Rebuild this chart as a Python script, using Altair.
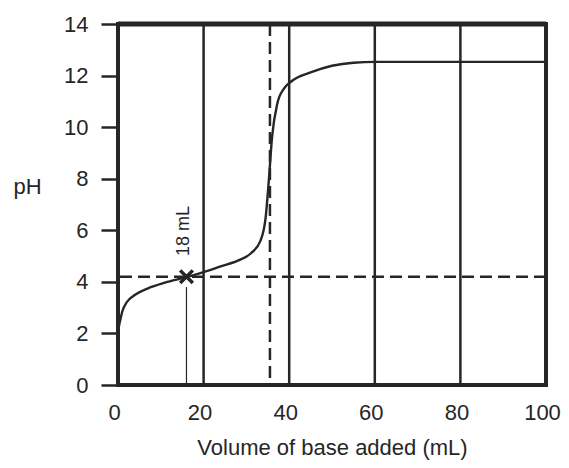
import altair as alt
import pandas as pd

# Titration curve (volume of base in mL, pH)
vol = [0, 0.5, 1, 2, 4, 7, 11, 16, 20, 24, 28, 31, 33.3, 34.5, 35.3, 36.0, 37.2, 38.8, 40.7, 45, 50, 55, 60, 100]
ph = [2.1, 2.5, 2.85, 3.2, 3.5, 3.75, 3.97, 4.18, 4.38, 4.6, 4.82, 5.1, 5.6, 6.5, 8.07, 9.62, 10.9, 11.5, 11.8, 12.12, 12.38, 12.5, 12.53, 12.53]

grid_x = [20, 40, 60, 80]
x_ticks = [0, 20, 40, 60, 80, 100]
y_ticks = [0, 2, 4, 6, 8, 10, 12, 14]

half_eq_vol = [16]        # where the X mark sits
half_eq_ph = [4.2]
half_eq_line_top = [3.8]
eq_vol = [35.5]
label_vol = [15.4]
label_ph = [5.97]
label_text = ["18 mL"]

FONT = "Liberation Sans"
INK = "#262626"

xs = alt.Scale(domain=[0, 100], nice=False, zero=False)
ys = alt.Scale(domain=[0, 14], nice=False, zero=False)

ax_x = alt.Axis(
    values=x_ticks, ticks=False, grid=False, domain=False, labelFlush=False,
    labelFont=FONT, labelFontSize=22, labelColor=INK, labelPadding=17,
    labelOffset=-4,
    title="Volume of base added (mL)", titleFont=FONT, titleFontSize=22,
    titleFontWeight="normal", titleColor=INK, titleBaseline="alphabetic",
    titleY=69)
ax_y = alt.Axis(
    values=y_ticks, ticks=True, tickSize=17, tickWidth=2.5, tickColor=INK,
    grid=False, domain=False, labelFlush=False,
    labelFont=FONT, labelFontSize=22, labelColor=INK, labelPadding=13,
    title="pH", titleAngle=0, titleFont=FONT, titleFontSize=22,
    titleFontWeight="normal", titleColor=INK, titleAlign="center",
    titleBaseline="alphabetic", titleX=-91, titleY=169)


def X(field="vol"):
    return alt.X(f"{field}:Q", scale=xs, axis=ax_x, title="Volume of base added (mL)")


def Y(field="ph"):
    return alt.Y(f"{field}:Q", scale=ys, axis=ax_y, title="pH")


curve_df = pd.DataFrame({"vol": vol, "ph": ph})

curve = alt.Chart(curve_df).mark_line(color=INK, strokeWidth=2.4, interpolate="monotone").encode(
    x=X(), y=Y()
)

grid = alt.Chart(pd.DataFrame({"vol": grid_x})).mark_rule(color=INK, strokeWidth=2.5).encode(x=X())

top_border = alt.Chart(pd.DataFrame({"ph": [14]})).mark_rule(color=INK, strokeWidth=5).encode(y=Y())

hdash = alt.Chart(pd.DataFrame({"ph": half_eq_ph})).mark_rule(
    color=INK, strokeWidth=2.5, strokeDash=[12, 6]).encode(y=Y())

vdash = alt.Chart(pd.DataFrame({"vol": eq_vol})).mark_rule(
    color=INK, strokeWidth=2.5, strokeDash=[12, 6]).encode(x=X())

thin = alt.Chart(pd.DataFrame({"vol": half_eq_vol, "ph": [0], "ph_top": half_eq_line_top})).mark_rule(
    color=INK, strokeWidth=1.2).encode(
    x=X(), y=Y(), y2="ph_top:Q",
)

xmark = alt.Chart(pd.DataFrame({"vol": half_eq_vol, "ph": half_eq_ph})).mark_point(
    shape="M-1,-1L1,1M-1,1L1,-1", size=160, stroke=INK, strokeWidth=3.5, filled=False, opacity=1).encode(
    x=X(), y=Y(),
)

label = alt.Chart(pd.DataFrame({"vol": label_vol, "ph": label_ph, "t": label_text})).mark_text(
    angle=270, font=FONT, fontSize=18, color=INK, align="center", baseline="middle").encode(
    x=X(), y=Y(), text="t:N",
)

chart = alt.layer(curve, grid, top_border, hdash, vdash, thin, xmark, label).properties(
    width=428, height=361,
    autosize=alt.AutoSizeParams(type="none"),
    padding={"left": 110, "top": 16, "right": 15, "bottom": 75},
    background="white",
).configure_view(stroke=INK, strokeWidth=4)

chart.save("out.html", embed_options={"renderer": "svg", "actions": False})
